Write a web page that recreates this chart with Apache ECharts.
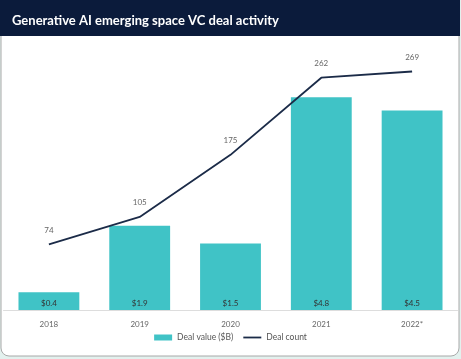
<!DOCTYPE html>
<html><head><meta charset="utf-8">
<script src="https://cdn.jsdelivr.net/npm/echarts@6/dist/echarts.min.js"></script>
<style>html,body{margin:0;padding:0;background:#e3f1ee;}#c{width:461px;height:359px;}</style>
</head><body><div id="c"></div>
<script>
var titleText = 'Generative AI emerging space VC deal activity';
var years = ['2018', '2019', '2020', '2021', '2022*'];
var dealValue = [0.4, 1.9, 1.5, 4.8, 4.5];
var dealCount = [74, 105, 175, 262, 269];

var chart = echarts.init(document.getElementById('c'));
chart.setOption({
  animation: false,
  backgroundColor: 'transparent',
  graphic: [
    {type: 'rect', shape: {x: 1, y: 0, width: 458, height: 356, r: [0, 0, 8, 8]},
     style: {fill: '#ffffff', stroke: '#a8a8a8', lineWidth: 1}, z: -10},
    {type: 'rect', shape: {x: 0, y: 0, width: 460, height: 36},
     style: {fill: '#0b1b3b'}, z: -5}
  ],
  title: {
    text: titleText, left: 7, top: 9,
    textStyle: {color: '#ffffff', fontFamily: 'Lato', fontWeight: 'bold', fontSize: 13}
  },
  legend: {
    bottom: 12, left: 'center', itemGap: 10, itemWidth: 18, itemHeight: 6,
    padding: [5, 5, 5, 17],
    textStyle: {color: '#555', fontFamily: 'Lato', fontSize: 8.5},
    data: [
      {name: 'Deal value ($B)', icon: 'rect'},
      {name: 'Deal count', icon: 'path://M0,0H20V2H0Z'}
    ]
  },
  grid: {left: 3.5, right: 3.5, top: 44, bottom: 49, containLabel: false},
  xAxis: {
    type: 'category', data: years,
    axisLine: {lineStyle: {color: '#dddddd'}},
    axisTick: {show: false},
    axisLabel: {color: '#666', fontFamily: 'Lato', fontSize: 8, margin: 10}
  },
  yAxis: [
    {type: 'value', min: 0, max: 6, show: false, splitLine: {show: false}},
    {type: 'value', min: 0, max: 300, show: false, splitLine: {show: false}}
  ],
  series: [
    {
      name: 'Deal value ($B)', type: 'bar', data: dealValue, yAxisIndex: 0,
      barWidth: '67%',
      itemStyle: {color: '#40c3c6'},
      label: {show: true, position: 'insideBottom', distance: 3,
        formatter: function (p) { return '$' + p.value.toFixed(1); },
        color: '#333', fontFamily: 'Lato', fontSize: 8}
    },
    {
      name: 'Deal count', type: 'line', data: dealCount, yAxisIndex: 1,
      symbol: 'circle', symbolSize: 0.1, showSymbol: true,
      lineStyle: {color: '#1b2b48', width: 1.8},
      itemStyle: {color: '#1b2b48'},
      label: {show: true, position: 'top', distance: 10, color: '#666', fontFamily: 'Lato', fontSize: 8}
    }
  ]
});
</script></body></html>
